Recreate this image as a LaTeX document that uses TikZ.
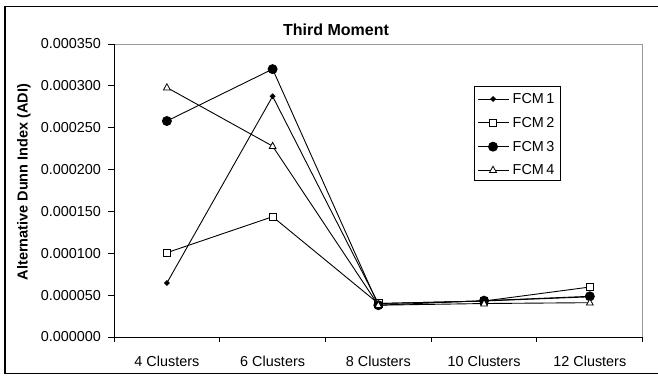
\documentclass[tikz,border=0pt]{standalone}
\usepackage{fontspec}
\setmainfont{Liberation Sans}
\begin{document}
\begin{tikzpicture}[x=1pt,y=-1pt,
  every node/.style={inner sep=0pt,outer sep=0pt},
  ticklab/.style={font=\fontsize{14.4}{16}\selectfont},
  series/.style={line width=0.9pt,black},
  frameline/.style={line width=1.2pt,black},
  plotedge/.style={line width=1pt,black!40},
  axisline/.style={line width=1pt,black}]
\useasboundingbox (0,0) rectangle (658,375);
% outer chart frame (open to the right)
\draw[frameline] (660,6.5) -- (5,6.5) -- (5,373.3) -- (660,373.3);
% title
\node[anchor=base,font=\fontsize{16}{18}\selectfont\bfseries] (title) at (336,35) {Third Moment};
% plot area
\coordinate (tl) at (114,44);
\coordinate (tr) at (642.7,44);
\coordinate (bl) at (114,337);
\coordinate (br) at (642.7,337);
\draw[plotedge] (tl) -- (tr) -- (br);
\draw[axisline] (tl) -- (bl) -- (br);
% y axis ticks and labels
\foreach \v/\lab in {0/0.000000,50/0.000050,100/0.000100,150/0.000150,200/0.000200,250/0.000250,300/0.000300,350/0.000350}{
  \pgfmathsetmacro{\yy}{337-\v*0.837143}
  \draw[axisline] (108,\yy) -- (114,\yy);
  \node[ticklab,anchor=east] (ylab\v) at (101,\yy) {\lab};
}
% x axis ticks and labels
\foreach \k in {0,...,5}{
  \pgfmathsetmacro{\xx}{114+\k*105.74}
  \draw[axisline] (\xx,337) -- (\xx,342);
}
\foreach \k/\lab in {0/4 Clusters,1/6 Clusters,2/8 Clusters,3/10 Clusters,4/12 Clusters}{
  \pgfmathsetmacro{\xx}{166.87+\k*105.74}
  \node[ticklab,anchor=base] (xlab\k) at (\xx,366.7) {\lab};
}
% y axis title
\node[rotate=90,font=\fontsize{14.5}{16}\selectfont\bfseries] (ytitle) at (24,182) {Alternative Dunn Index (ADI)};
% data points (values in units of 1e-6)
\foreach \s/\vals in {1/{64.5,287.5,40,43,48},2/{100.7,143.7,40,43,59.7},3/{258,320,38,43.4,48.6},4/{298,228,38,40,41}}{
  \foreach \v [count=\k from 0] in \vals {
    \pgfmathsetmacro{\xx}{166.87+\k*105.74}
    \pgfmathsetmacro{\yy}{337-\v*0.837143}
    \coordinate (s\s p\k) at (\xx,\yy);
  }
}
% marker shapes
\tikzset{
  mk1/.pic={\fill[black] (0,-3) -- (3,0) -- (0,3) -- (-3,0) -- cycle;},
  mk2/.pic={\filldraw[fill=white,draw=black,line width=0.9pt] (-3.6,-3.6) rectangle (3.6,3.6);},
  mk3/.pic={\fill[black] (0,0) circle (5);},
  mk4/.pic={\filldraw[fill=white,draw=black,line width=0.8pt] (0,-3.8) -- (3.4,2.4) -- (-3.4,2.4) -- cycle;}
}
% series lines and markers
\foreach \s in {1,2,3,4}{
  \draw[series] (s\s p0) -- (s\s p1) -- (s\s p2) -- (s\s p3) -- (s\s p4);
  \foreach \k in {0,...,4}{ \pic at (s\s p\k) {mk\s}; }
}
% legend
\draw[line width=0.9pt,black] (474,86) rectangle (560,180.3);
\foreach \s/\yy in {1/99,2/122.7,3/146.7,4/170}{
  \coordinate (lgA\s) at (478,\yy);
  \coordinate (lgB\s) at (508.7,\yy);
  \draw[series] (lgA\s) -- (lgB\s);
  \pic at (493,\yy) {mk\s};
  \node[ticklab,anchor=west] (lgt\s) at (512.7,\yy) {FCM\,\s};
}
\end{tikzpicture}
\end{document}
